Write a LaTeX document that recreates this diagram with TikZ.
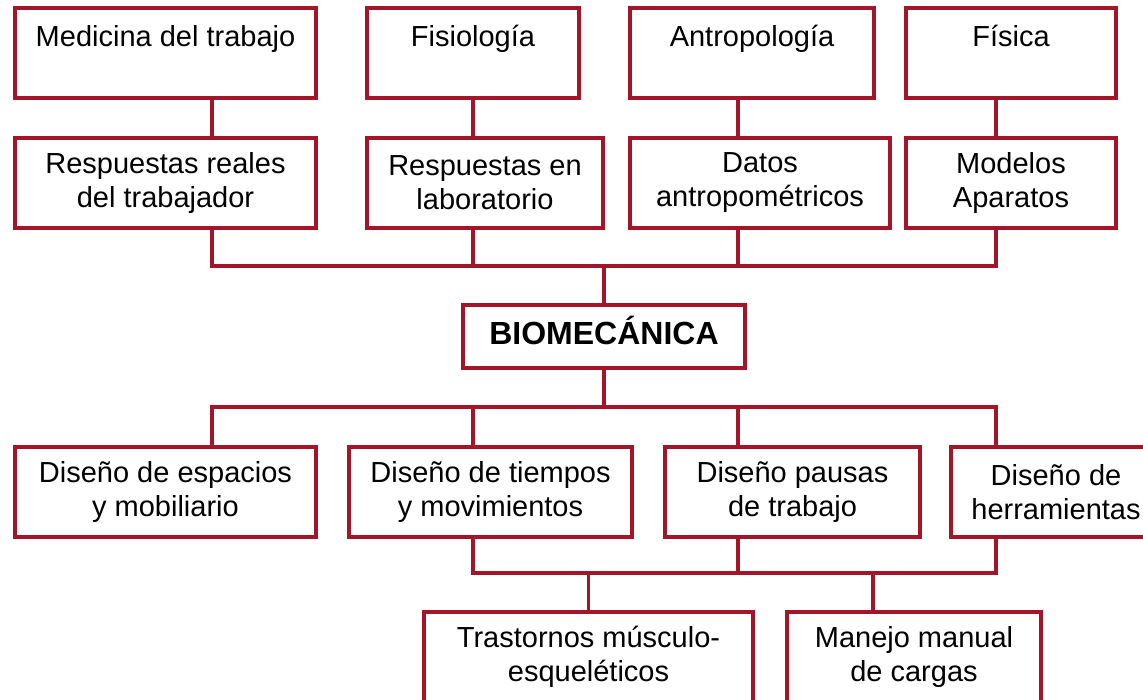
\documentclass[tikz,border=0pt]{standalone}
\usepackage{fontspec}
\setmainfont{Liberation Sans}
\definecolor{bmred}{RGB}{163,21,41}
\tikzset{
	box/.style={draw=bmred,line width=3.6pt,inner sep=0pt,align=center,
		minimum height=90pt,font=\fontsize{29}{34}\selectfont},
	link/.style={draw=bmred,line width=3.6pt},
}
\begin{document}
\begin{tikzpicture}[x=1pt,y=-1pt]
\useasboundingbox (0,0) rectangle (1143,699);
% disciplinas
\node[box,minimum width=301pt] (med) at (165.5,53) {Medicina del trabajo\\\mbox{}};
\node[box,minimum width=212pt] (fis) at (473,53) {Fisiología\\\mbox{}};
\node[box,minimum width=244pt] (ant) at (752,53) {Antropología\\\mbox{}};
\node[box,minimum width=210pt] (fsc) at (1011,53) {Física\\\mbox{}};
% aportes
\node[box,minimum width=301pt] (resp) at (165.5,183) {Respuestas reales\\del trabajador};
\node[box,minimum width=236pt] (lab) at (485,183) {Respuestas en\\laboratorio};
\node[box,minimum width=260pt] (dat) at (760,183) {Datos\\antropométricos};
\node[box,minimum width=210pt] (mod) at (1011,183) {Modelos\\Aparatos};
\node[box,minimum width=282pt,minimum height=63pt,text height=23pt,text depth=8pt,
	font=\fontsize{32}{36}\selectfont\bfseries] (bio) at (604,336.5) {BIOMECÁNICA};
% aplicaciones
\node[box,minimum width=301pt] (esp) at (165.5,492) {Diseño de espacios\\y mobiliario};
\node[box,minimum width=283pt] (tie) at (490.5,492) {Diseño de tiempos\\y movimientos};
\node[box,minimum width=255pt] (pau) at (792.5,492) {Diseño pausas\\de trabajo};
\node[box,minimum width=210pt] (her) at (1056,492) {Diseño de\\herramientas};
\node[box,minimum width=329pt] (tras) at (588.5,657) {Trastornos músculo-\\esqueléticos};
\node[box,minimum width=254pt] (man) at (914,657) {Manejo manual\\de cargas};
% puntos de union
\foreach \n/\x in {1/212, 2/473, 3/738, 4/996} {
	\coordinate (up\n) at (\x,266);
	\coordinate (dn\n) at (\x,407);
	\coordinate (lo\n) at (\x,573);
}
\coordinate (lo5) at (873,573);
% arriba
\draw[link] (med.south -| up1) -- (resp.north -| up1);
\draw[link] (fis.south -| up2) -- (lab.north -| up2);
\draw[link] (ant.south -| up3) -- (dat.north -| up3);
\draw[link] (fsc.south -| up4) -- (mod.north -| up4);
\draw[link] (resp.south -| up1) -- (up1) -- (up4) -- (mod.south -| up4);
\draw[link] (lab.south -| up2) -- (up2);
\draw[link] (dat.south -| up3) -- (up3);
\draw[link] (bio.north |- up1) -- (bio.north);
% abajo
\draw[link] (bio.south) -- (bio.south |- dn1);
\draw[link] (esp.north -| dn1) -- (dn1) -- (dn4) -- (her.north -| dn4);
\draw[link] (dn2) -- (tie.north -| dn2);
\draw[link] (dn3) -- (pau.north -| dn3);
\draw[link] (tie.south -| lo2) -- (lo2) -- (lo4) -- (her.south -| lo4);
\draw[link] (pau.south -| lo3) -- (lo3);
\draw[link] (tras.north |- lo2) -- (tras.north);
\draw[link] (lo5) -- (man.north -| lo5);
\end{tikzpicture}
\end{document}
